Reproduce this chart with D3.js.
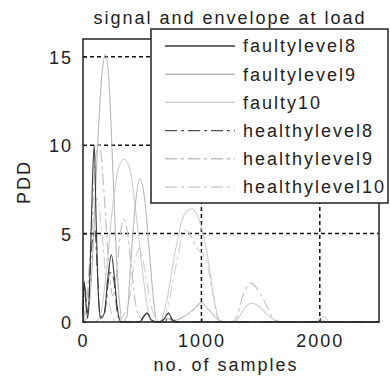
<!DOCTYPE html>
<html>
<head>
<meta charset="utf-8">
<script src="https://cdn.jsdelivr.net/npm/d3@7"></script>
<style>
  body { margin: 0; background: #fff; }
  text { font-family: "Liberation Sans", Arial, sans-serif; fill: #222; }
</style>
</head>
<body>
<svg id="chart" width="390" height="376"></svg>
<script>
// ---- data (samples, PDD) ----
const titleText = "signal and envelope at load";
const xLabel = "no. of samples";
const yLabel = "PDD";
const xTicks = [0, 1000, 2000];
const yTicks = [0, 5, 10, 15];
const seriesNames = ["faultylevel8", "faultylevel9", "faulty10", "healthylevel8", "healthylevel9", "healthylevel10"];

const faultylevel8 = [[0,0.3],[10,2.3],[25,1.0],[40,0.2],[60,3],[80,8],[95,10],[110,6],[130,1.5],[150,0.2],[180,0.5],[210,2.5],[240,3.8],[265,2.5],[290,0.8],[320,0],[480,0],[510,0.3],[540,0.5],[580,0.1],[640,0],[690,0.2],[720,0.5],[760,0.1],[820,0],[2500,0]];
const faultylevel9 = [[0,0],[40,0.3],[80,3.5],[120,9.5],[160,14],[190,15.1],[220,13.5],[250,9],[280,4],[310,1],[330,0],[370,0.3],[400,3],[440,6.5],[480,8.1],[520,7],[560,4],[600,1],[625,0],[700,0.2],[780,0.1],[850,0.3],[950,0.8],[1000,1.1],[1060,0.7],[1150,0.1],[1200,0],[2500,0]];
const faulty10 = [[0,0],[100,0],[150,0.5],[200,3],[250,6.5],[300,8.7],[350,9.2],[400,8.5],[450,6],[500,3],[540,1],[570,0],[650,0],[700,1],[780,4],[850,6],[917,6.4],[980,5.8],[1050,3.8],[1110,1.2],[1160,0],[1280,0],[1320,0.3],[1380,0.9],[1420,1.07],[1480,0.9],[1560,0.4],[1640,0.05],[1700,0],[1950,0],[2000,0.15],[2060,0],[2500,0]];
const healthylevel8 = [[0,0.5],[15,2.0],[40,0.5],[70,4],[100,5.2],[120,3],[145,0.3],[180,0.5],[230,2.8],[260,2.4],[290,0.5],[320,0],[480,0],[540,0.5],[600,0],[700,0],[720,0.5],[760,0],[2500,0]];
const healthylevel9 = [[0,0],[30,1],[70,5],[110,9.5],[140,10],[170,8],[210,4],[250,1.5],[280,2.5],[320,5.2],[345,5.8],[370,5.3],[410,3],[450,0.8],[480,0.3],[520,0],[1250,0],[1300,0.3],[1350,1.5],[1420,2.2],[1480,1.8],[1560,0.8],[1620,0.1],[1700,0],[2500,0]];
const healthylevel10 = [[0,0],[40,2],[90,6],[120,7],[160,5],[200,2],[240,0.5],[280,0],[380,1],[440,3.5],[480,4.2],[520,3],[580,0.8],[640,0],[700,0.5],[780,3],[860,5.2],[900,5.0],[960,4.2],[1040,3.5],[1100,1.5],[1150,0],[1980,0],[2040,0.3],[2080,0],[2500,0]];

const seriesData = [faultylevel8, faultylevel9, faulty10, healthylevel8, healthylevel9, healthylevel10];
const seriesColor = ["#3a3a3a", "#b8b8b8", "#cdcdcd", "#505050", "#bdbdbd", "#cfcfcf"];
const seriesDash = [null, null, null, "12,4,3,4", "12,4,3,4", "12,4,3,4"];

// ---- layout ----
const svg = d3.select("#chart");
const plotL = 83, plotR = 379, plotT = 39, plotB = 322;

const x = d3.scaleLinear().domain([0, 2500]).range([plotL, plotR]);
const y = d3.scaleLinear().domain([0, 16]).range([plotB, plotT]);

const fontSize = 18, spacing = 2;

// grid
svg.append("g").selectAll("line").data(yTicks.filter(d => d > 0)).join("line")
  .attr("x1", plotL).attr("x2", plotR)
  .attr("y1", d => y(d)).attr("y2", d => y(d))
  .attr("stroke", "#111").attr("stroke-width", 1.5).attr("stroke-dasharray", "4,3");
svg.append("g").selectAll("line").data(xTicks.filter(d => d > 0)).join("line")
  .attr("x1", d => x(d)).attr("x2", d => x(d))
  .attr("y1", plotT).attr("y2", plotB)
  .attr("stroke", "#111").attr("stroke-width", 1.5).attr("stroke-dasharray", "4,3");

// lines
const line = d3.line()
  .curve(d3.curveMonotoneX)
  .x(d => x(d[0]))
  .y(d => y(d[1]));

// draw light ones first, dark on top
const order = [2, 5, 1, 4, 3, 0];
order.forEach(i => {
  svg.append("path")
    .datum(seriesData[i])
    .attr("d", line)
    .attr("fill", "none")
    .attr("stroke", seriesColor[i])
    .attr("stroke-width", 1.1)
    .attr("stroke-dasharray", seriesDash[i]);
});

// axes box
svg.append("rect")
  .attr("x", plotL).attr("y", plotT)
  .attr("width", plotR - plotL).attr("height", plotB - plotT)
  .attr("fill", "none").attr("stroke", "#222").attr("stroke-width", 1.5);

// axes (inward ticks)
const xAxis = svg.append("g").attr("transform", `translate(0,${plotB})`)
  .call(d3.axisBottom(x).tickValues(xTicks).tickSize(-4).tickPadding(12).tickFormat(d3.format("d")));
const yAxis = svg.append("g").attr("transform", `translate(${plotL},0)`)
  .call(d3.axisLeft(y).tickValues(yTicks).tickSize(-4).tickPadding(10).tickFormat(d3.format("d")));
[xAxis, yAxis].forEach(a => {
  a.select(".domain").remove();
  a.selectAll(".tick line").attr("stroke", "#222");
  a.selectAll(".tick text")
    .attr("font-size", fontSize)
    .attr("letter-spacing", spacing)
    .attr("font-family", "Liberation Sans, Arial, sans-serif")
    .attr("fill", "#222");
});
yAxis.selectAll(".tick text").attr("dy", "0.36em");

// title and axis labels
svg.append("text")
  .attr("x", 230).attr("y", 24)
  .attr("text-anchor", "middle")
  .attr("font-size", fontSize).attr("letter-spacing", spacing)
  .text(titleText);
svg.append("text")
  .attr("x", 226).attr("y", 371)
  .attr("text-anchor", "middle")
  .attr("font-size", fontSize).attr("letter-spacing", spacing)
  .text(xLabel);
svg.append("text")
  .attr("transform", "translate(30,182) rotate(-90)")
  .attr("text-anchor", "middle")
  .attr("font-size", fontSize).attr("letter-spacing", spacing)
  .text(yLabel);

// legend
const legend = svg.append("g");
legend.append("rect")
  .attr("x", 151).attr("y", 29)
  .attr("width", 237).attr("height", 174)
  .attr("fill", "#fff").attr("stroke", "#222").attr("stroke-width", 1.5);

const row = d3.scaleLinear().domain([0, 5]).range([46, 187]);
const entries = legend.selectAll("g.entry").data(seriesNames).join("g")
  .attr("class", "entry")
  .attr("transform", (d, i) => `translate(0,${row(i)})`);
entries.append("line")
  .attr("x1", 165).attr("x2", 235)
  .attr("stroke", (d, i) => seriesColor[i])
  .attr("stroke-width", 1.4)
  .attr("stroke-dasharray", (d, i) => seriesDash[i]);
entries.append("text")
  .attr("x", 243).attr("dy", "0.36em")
  .attr("font-size", fontSize).attr("letter-spacing", spacing)
  .text(d => d);
</script>
</body>
</html>
